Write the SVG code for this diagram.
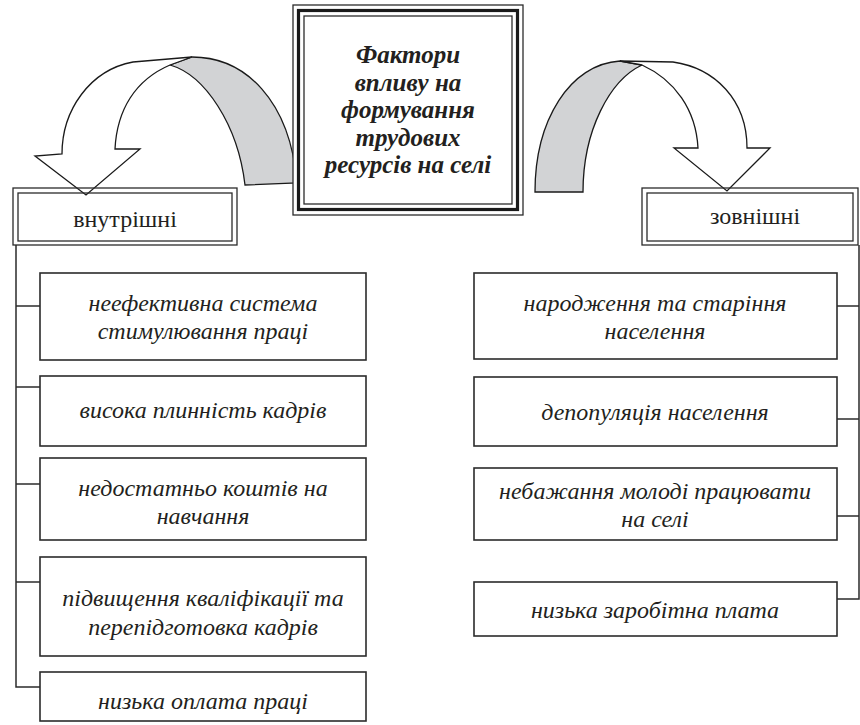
<svg xmlns="http://www.w3.org/2000/svg" width="860" height="725" viewBox="0 0 860 725">
<style>
.bg{fill:#fff}
.box{fill:#fff;stroke:#2b2b2b;stroke-width:1.6}
.thin{fill:none;stroke:#2b2b2b;stroke-width:1.3}
.thick{fill:none;stroke:#1a1a1a;stroke-width:3.2}
.conn{fill:none;stroke:#2b2b2b;stroke-width:1.5}
.arw{fill:#fff;stroke:#1a1a1a;stroke-width:1.3;stroke-linejoin:miter}
.arwg{fill:#d2d3d5;stroke:#1a1a1a;stroke-width:1.3}
text{font-family:'Liberation Serif','Times New Roman',serif;fill:#231f20;text-anchor:middle}
.t{font-style:italic;font-size:24px}
.lab{font-size:24px}
.title{font-style:italic;font-weight:bold;font-size:25px}
</style>
<rect class="bg" x="0" y="0" width="860" height="725"/>

<g id="connectors">
  <polyline class="conn" points="16,245 16,687 40,687"/>
  <line class="conn" x1="16" y1="306" x2="40" y2="306"/>
  <line class="conn" x1="16" y1="387" x2="40" y2="387"/>
  <line class="conn" x1="16" y1="484" x2="40" y2="484"/>
  <line class="conn" x1="16" y1="582" x2="40" y2="582"/>
  <polyline class="conn" points="859,245 859,599 837,599"/>
  <line class="conn" x1="837" y1="306" x2="859" y2="306"/>
  <line class="conn" x1="837" y1="419" x2="859" y2="419"/>
  <line class="conn" x1="837" y1="516" x2="859" y2="516"/>
</g>

<g id="arrow-left">
  <path class="arwg" d="M297,183 C290,100 245,57 192,57 L170,65 C205,75 238,125 245,185 Z"/>
  <path class="arw" d="M192,57 L133,62 C90,70 62,110 62,154 L35,156 L86,195 L140,149 L115,149 C117,110 135,80 170,65 Z"/>
</g>
<g id="arrow-right">
  <path class="arwg" d="M535,192 C535,120 570,64 620,61 L642,65 C610,80 583,130 583,192 Z"/>
  <path class="arw" d="M620,61 L673,62 C715,68 747,100 747,148 L770,148 L727,191 L674,148 L698,148 C696,110 675,80 642,65 Z"/>
</g>

<g id="center">
  <rect x="293" y="5" width="230" height="210" fill="#fff" stroke="#2b2b2b" stroke-width="1.3"/>
  <rect class="thick" x="298.5" y="10.5" width="219" height="199"/>
  <rect class="thin" x="304" y="16" width="208" height="188"/>
  <text class="title" x="408" y="63">Фактори</text>
  <text class="title" x="408" y="91">впливу на</text>
  <text class="title" x="408" y="118">формування</text>
  <text class="title" x="408" y="146">трудових</text>
  <text class="title" x="408" y="173">ресурсів на селі</text>
</g>

<g id="internal">
  <rect class="thin" x="13" y="188" width="224" height="57"/>
  <rect class="thin" x="18" y="193" width="214" height="48"/>
  <text class="lab" x="125" y="227">внутрішні</text>
</g>
<g id="external">
  <rect class="thin" x="642" y="188" width="216" height="57"/>
  <rect class="thin" x="647" y="193" width="206" height="48"/>
  <text class="lab" x="755" y="224">зовнішні</text>
</g>

<g id="l1">
  <rect class="box" x="40" y="273" width="326" height="87"/>
  <text class="t" x="203" y="311">неефективна система</text>
  <text class="t" x="203" y="339">стимулювання праці</text>
</g>
<g id="l2">
  <rect class="box" x="40" y="376" width="326" height="70"/>
  <text class="t" x="203" y="418">висока плинність кадрів</text>
</g>
<g id="l3">
  <rect class="box" x="40" y="458" width="326" height="82"/>
  <text class="t" x="203" y="496">недостатньо коштів на</text>
  <text class="t" x="203" y="524">навчання</text>
</g>
<g id="l4">
  <rect class="box" x="40" y="557" width="326" height="99"/>
  <text class="t" x="203" y="606">підвищення кваліфікації та</text>
  <text class="t" x="203" y="635">перепідготовка кадрів</text>
</g>
<g id="l5">
  <rect class="box" x="40" y="672" width="326" height="49"/>
  <text class="t" x="203" y="709">низька оплата праці</text>
</g>

<g id="r1">
  <rect class="box" x="474" y="273" width="363" height="86"/>
  <text class="t" x="655" y="311">народження та старіння</text>
  <text class="t" x="655" y="339">населення</text>
</g>
<g id="r2">
  <rect class="box" x="474" y="377" width="363" height="69"/>
  <text class="t" x="655" y="420">депопуляція населення</text>
</g>
<g id="r3">
  <rect class="box" x="474" y="468" width="363" height="72"/>
  <text class="t" x="655" y="499">небажання молоді працювати</text>
  <text class="t" x="655" y="527">на селі</text>
</g>
<g id="r4">
  <rect class="box" x="474" y="582" width="363" height="54"/>
  <text class="t" x="655" y="618">низька заробітна плата</text>
</g>
</svg>
